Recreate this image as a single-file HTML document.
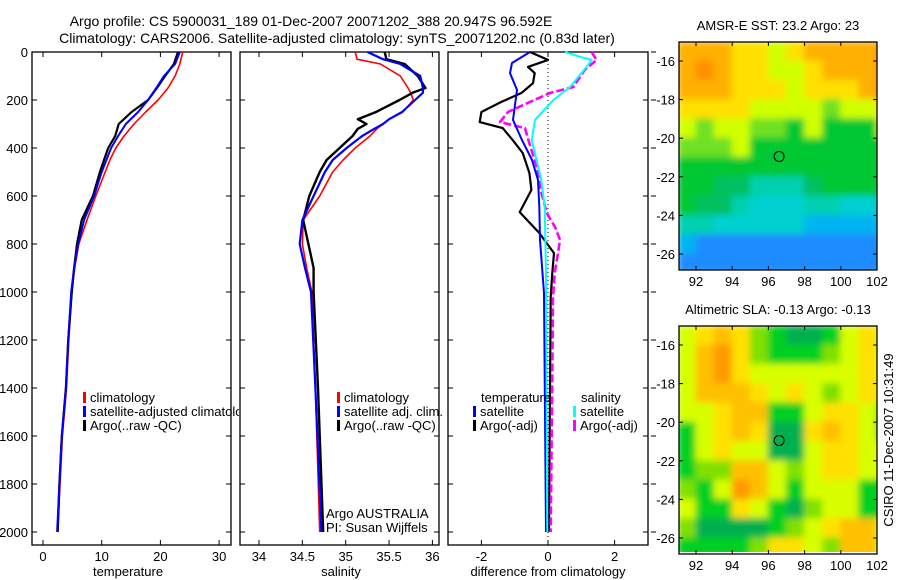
<!DOCTYPE html>
<html><head><meta charset="utf-8"><style>
body{margin:0;background:#fff;}
svg{display:block;font-family:"Liberation Sans",sans-serif;}
text{font-size:13px;fill:#000;}
</style></head><body>
<svg id="fig" width="900" height="580" viewBox="0 0 900 580">
<defs>
<filter id="blur1" x="0" y="0" width="100%" height="100%"><feGaussianBlur stdDeviation="3.5"/></filter>
<clipPath id="clipMap1"><rect x="679" y="42" width="198" height="228"/></clipPath>
<clipPath id="clipMap2"><rect x="679" y="326" width="198" height="226"/></clipPath>
<clipPath id="clipLeg1"><rect x="0" y="380" width="239" height="60"/></clipPath>
</defs>
<text x="311" y="26" text-anchor="middle" style="font-size:14px">Argo profile: CS 5900031_189 01-Dec-2007 20071202_388 20.947S 96.592E</text>
<text x="337" y="43" text-anchor="middle" style="font-size:14px">Climatology: CARS2006. Satellite-adjusted climatology: synTS_20071202.nc (0.83d later)</text>
<g id="g"></g>
<text transform="translate(893,440) rotate(-90)" text-anchor="middle" style="font-size:13px">CSIRO 11-Dec-2007 10:31:49</text>
</svg>
<script>
// ---- data ----
const depths = [0,50,100,150,200,250,300,350,400,450,500,600,700,800,900,1000,1200,1400,1600,1800,2000];
const tempClim = [23.8,23.3,22.5,21.3,19.6,17.5,15.5,13.8,12.4,11.4,10.6,9.0,7.5,6.1,5.4,4.9,4.4,4.0,3.3,2.9,2.5];
const tempSat  = [23.3,22.5,20.6,19.3,17.9,16.2,14.1,12.8,11.6,10.8,10.0,8.7,7.0,6.0,5.3,4.8,4.3,3.9,3.2,2.8,2.4];
const tempArgo = [23.0,22.3,20.8,19.4,17.9,15.1,12.9,12.3,11.1,10.4,9.7,8.5,6.6,5.8,5.3,4.9,4.3,3.9,3.2,2.8,2.5];
const salDepths = [0,30,50,100,150,170,200,250,280,300,320,350,400,450,500,600,700,800,900,1000,1400,2000];
const salClim = [35.11,35.13,35.40,35.63,35.72,35.75,35.78,35.66,35.50,35.43,35.36,35.28,35.11,34.97,34.85,34.70,34.51,34.50,34.55,34.61,34.65,34.70];
const salSat  = [35.25,35.43,35.63,35.86,35.89,35.89,35.80,35.65,35.50,35.43,35.33,35.19,35.01,34.85,34.76,34.63,34.50,34.47,34.53,34.60,34.65,34.72];
const salArgo = [35.45,35.47,35.68,35.83,35.92,35.77,35.62,35.35,35.14,35.24,35.14,35.08,34.93,34.78,34.70,34.58,34.51,34.57,34.63,34.63,34.68,34.74];
const dTempSatDepths = [0,46,88,158,283,367,450,533,645,783,1004,2000];
const dTempSat = [-0.54,-1.08,-1.14,-0.93,-1.05,-0.78,-0.48,-0.30,-0.26,-0.24,-0.12,-0.06];
const dTempArgoDepths = [0,33,62,88,130,171,208,250,292,317,367,421,504,575,667,754,838,921,1021,2000];
const dTempArgo = [-0.54,0.0,-0.6,-0.4,-0.45,-0.8,-1.4,-2.0,-2.05,-1.36,-1.06,-0.76,-0.56,-0.5,-0.85,-0.26,0.18,0.13,0.08,0.03];
const dSalSatDepths = [0,20,33,62,146,200,283,367,479,533,645,921,2000];
const dSalSat = [0.51,0.96,1.31,1.16,0.66,0.16,-0.39,-0.49,-0.29,-0.2,-0.1,-0.06,-0.02];
const dSalArgoDepths = [0,33,75,146,171,208,250,292,317,367,479,563,671,729,783,838,921,1021,2000];
const dSalArgo = [1.31,1.46,1.1,0.76,0.06,-0.54,-1.2,-1.44,-0.69,-0.59,-0.34,-0.24,-0.04,0.21,0.36,0.3,0.2,0.15,0.08];
const depthTicks = [0,200,400,600,800,1000,1200,1400,1600,1800,2000];
const tempTicks = [0,10,20,30];
const salTicks = ["34","34.5","35","35.5","36"];
const diffTicks = [-2,0,2];
const latTicks = [16,18,20,22,24,26];
const lonTicks = [92,94,96,98,100,102];
const sstGrid = [
[8,8,8,7,7,6,7,8,8,8,8,9],
[8,9,8,7,7,6,6,7,8,8,8,9],
[8,8,8,7,7,7,6,7,7,7,8,9],
[7,7,7,7,6,6,6,6,5,6,6,7],
[6,5,6,6,5,5,4,6,4,4,4,6],
[5,5,5,6,4,4,4,4,4,4,4,4],
[4,4,4,4,4,4,4,4,4,4,4,4],
[4,4,3.5,3.5,3,3,3,3.5,4,4,4,4],
[4,3.5,3.5,3,2.5,2.5,2.5,3,3,2.5,2.5,2.5],
[3,3,2.5,2.5,2.5,2.5,2.5,2,2,2,2,2],
[2,1.5,1.5,1.5,1.5,1.5,1.5,1.5,1.5,1.5,1.5,1.5],
[1.5,1.2,1,1,1,1,1,1,1,1,1,1]];
const slaGrid = [
[5,6,7,6,4,3,2,2,3,5,6,5],
[5,7,8,6,4,3,3,3,4,5,6,5],
[5,7,8,6,5,5,5,5,5,5,6,5],
[5,7,7,7,6,5,6,5,4,5,6,6],
[5,5,6,7,7,3,3,5,6,6,5,4],
[3,5,6,7,6,2,2,6,7,6,5,3],
[3,5,6,5,5,2,2,5,6,6,5,5],
[3,4,4,7,7,5,4,5,6,6,5,5],
[4,3,5,8,7,5,3,5,5,5,3,3],
[5,3,3,6,5,3,2,4,5,5,3,3],
[4,2,2,2,2,3,4,5,6,7,7,5],
[3,3,3,3,4,6,6,5,4,7,7,5]];
const gridLon0 = 91, gridLat0 = 15;
const argoLon = 96.592, argoLat = 20.947;

// ---- helpers ----
const NS="http://www.w3.org/2000/svg";
const G=document.getElementById('g');
function mk(tag,attrs,parent){const e=document.createElementNS(NS,tag);for(const k in attrs)e.setAttribute(k,attrs[k]);(parent||G).appendChild(e);return e;}
const yD = d => 52 + d*0.24;
const xT = t => 43 + t*5.87;
const xS = s => 259 + (s-34)*86.7;
const xDf = v => 548 + v*33.3;

function frame(x0,x1,name){
  const r=mk('rect',{x:x0,y:52,width:x1-x0,height:493,fill:'none',stroke:'#000','stroke-width':1.3});
  
  
  depthTicks.forEach(d=>{
    const t1=mk('line',{x1:x0,x2:x0+5,y1:yD(d),y2:yD(d),stroke:'#000'});
    
    
    const t2=mk('line',{x1:x1-5,x2:x1,y1:yD(d),y2:yD(d),stroke:'#000'});
    
    
  });
}
function xtick(x,label){
  const a=mk('line',{x1:x,x2:x,y1:545,y2:540,stroke:'#000'});
  
  
  const b=mk('line',{x1:x,x2:x,y1:52,y2:57,stroke:'#000'});
  
  
  const t=mk('text',{x:x,y:561,'text-anchor':'middle'});t.textContent=label;
  
  
}
function line(xs,ds,fx,color,w,name,dash){
  const pts=xs.map((v,i)=>fx(v).toFixed(1)+','+yD(ds[i]).toFixed(1)).join(' ');
  const a={points:pts,fill:'none',stroke:color,'stroke-width':w,'stroke-linejoin':'round'};
  if(dash)a['stroke-dasharray']=dash;
  const p=mk('polyline',a);
  
  
}
function txt(x,y,s,name,anchor,parent){const t=mk('text',{x:x,y:y,'text-anchor':anchor||'start'},parent);t.textContent=s;
  
  return t;}
function leg(x,y,color,label,name,parent){
  const r=mk('rect',{x:x,y:y-10,width:3,height:11,fill:color},parent);
  
  
  txt(x+7,y,label,name,'start',parent);
}

// ---- panel 1: temperature ----
frame(32,231,'temperature-panel');
depthTicks.forEach(d=>txt(28,yD(d)+5,String(d),'depth-tick-label','end'));
tempTicks.forEach(t=>xtick(xT(t),String(t)));
txt(128,576,'temperature','temperature-axis-title','middle');
line(tempClim,depths,xT,'#f00',1.6,'temperature-climatology-line');
line(tempArgo,depths,xT,'#000',2.2,'temperature-argo-line');
line(tempSat,depths,xT,'#00f',2,'temperature-satellite-line');
const lg1=mk('g',{'clip-path':'url(#clipLeg1)'});


leg(83,402,'#f00','climatology','legend-climatology',lg1);
leg(83,416,'#00f','satellite-adjusted climatology','legend-satellite-adjusted',lg1);
leg(83,430,'#000','Argo(..raw -QC)','legend-argo-raw',lg1);

// ---- panel 2: salinity ----
frame(240,439,'salinity-panel');
salTicks.forEach(s=>xtick(xS(parseFloat(s)),s));
txt(341,576,'salinity','salinity-axis-title','middle');
line(salClim,salDepths,xS,'#f00',1.6,'salinity-climatology-line');
line(salArgo,salDepths,xS,'#000',2.4,'salinity-argo-line');
line(salSat,salDepths,xS,'#00f',2.2,'salinity-satellite-line');
leg(337,402,'#f00','climatology','legend-sal-climatology');
leg(337,416,'#00f','satellite adj. clim.','legend-sal-satellite');
leg(337,430,'#000','Argo(..raw -QC)','legend-sal-argo');
txt(326,518,'Argo AUSTRALIA','argo-australia-label');
txt(326,532,'PI: Susan Wijffels','pi-label');

// ---- panel 3: differences ----
frame(448,648,'difference-panel');
diffTicks.forEach(v=>xtick(xDf(v),String(v)));
depthTicks.forEach(d=>{const t=mk('line',{x1:651,x2:656,y1:yD(d),y2:yD(d),stroke:'#000'});
  
  });
txt(548,576,'difference from climatology','difference-axis-title','middle');
const zl=mk('line',{x1:xDf(0),x2:xDf(0),y1:52,y2:545,stroke:'#000','stroke-dasharray':'1,3'});


line(dTempArgo,dTempArgoDepths,xDf,'#000',2.2,'diff-temp-argo-line');
line(dSalArgo,dSalArgoDepths,xDf,'#f0f',2.6,'diff-sal-argo-line','8,3');
line(dTempSat,dTempSatDepths,xDf,'#00f',2,'diff-temp-satellite-line');
line(dSalSat,dSalSatDepths,xDf,'#0ff',2,'diff-sal-satellite-line');
txt(481,402,'temperature','legend-temperature-header');
txt(581,402,'salinity','legend-salinity-header');
leg(473,416,'#00f','satellite','legend-diff-temp-satellite');
leg(473,430,'#000','Argo(-adj)','legend-diff-temp-argo');
leg(573,416,'#0ff','satellite','legend-diff-sal-satellite');
leg(573,430,'#f0f','Argo(-adj)','legend-diff-sal-argo');

// ---- maps ----
const sstColors=['#0040ff','#1a8cff','#00b4f0','#00d0d0','#00d0b0','#00c060','#00c830','#70e020','#d0ff00','#ffe000','#ffb000','#ff9000'];
function sstColor(v){const stops=[0,1,2,2.5,3,3.5,4,5,6,7,8,9];let i=0;while(i<stops.length-1&&stops[i+1]<=v)i++;return sstColors[i];}
const slaColors=['#00a050','#00a050','#00b050','#00d020','#80e000','#d8ff00','#ffe000','#ffc000','#ff9a00'];
function slaColor(v){return slaColors[Math.max(0,Math.min(8,Math.round(v)))];}
function map(top,latY16,latY26,grid,colorFn,title,name,clip){
  const x0=679,x1=877,bot=top+228;
  const xL=lon=>696+(lon-92)*18.1;
  const yL=lat=>latY16+(lat-16)*(latY26-latY16)/10;
  const g=mk('g',{'clip-path':'url(#'+clip+')'});
  
  
  const gb=mk('g',{filter:'url(#blur1)'},g);
  grid.forEach((row,r)=>row.forEach((v,c)=>{
    const cell=mk('rect',{x:xL(gridLon0+c)-0.5,y:yL(gridLat0+r)-0.5,width:19.2,height:20.4,fill:colorFn(v)},gb);
    
    
  }));
  const fr=mk('rect',{x:x0,y:top,width:x1-x0,height:bot-top,fill:'none',stroke:'#000','stroke-width':1.3});
  
  
  latTicks.forEach(l=>{
    const a=mk('line',{x1:x0,x2:x0+4,y1:yL(l),y2:yL(l),stroke:'#000'});
    
    
    const b=mk('line',{x1:x1-4,x2:x1,y1:yL(l),y2:yL(l),stroke:'#000'});
    
    
    txt(675,yL(l)+5,'-'+l,'lat-tick-label','end');
  });
  lonTicks.forEach(l=>{
    const a=mk('line',{x1:xL(l),x2:xL(l),y1:bot,y2:bot-4,stroke:'#000'});
    
    
    const b=mk('line',{x1:xL(l),x2:xL(l),y1:top,y2:top+4,stroke:'#000'});
    
    
    txt(xL(l),bot+16,String(l),'lon-tick-label','middle');
  });
  const c=mk('circle',{cx:xL(argoLon),cy:yL(argoLat),r:5,fill:'none',stroke:'#000','stroke-width':1});
  
  
  txt(778,top-12,title,name+'-title','middle');
}
map(42,61,254,sstGrid,sstColor,'AMSR-E SST: 23.2 Argo: 23','sst-map','clipMap1');
map(326,345,538,slaGrid,slaColor,'Altimetric SLA: -0.13 Argo: -0.13','sla-map','clipMap2');
</script>
</body></html>
